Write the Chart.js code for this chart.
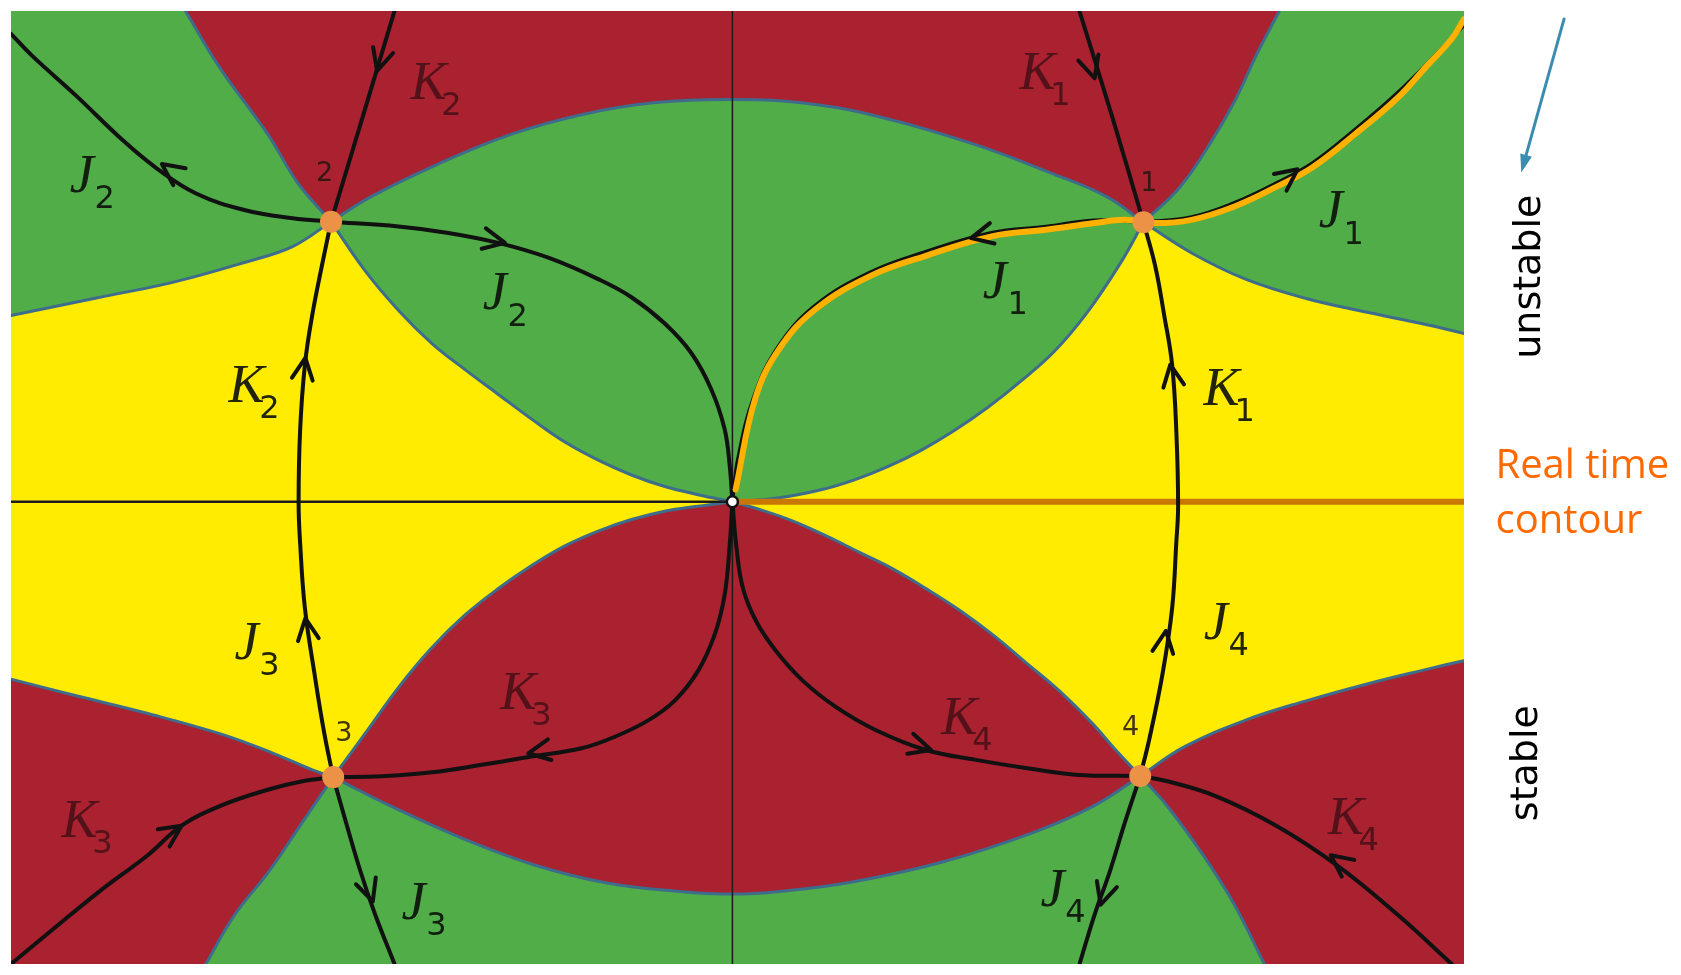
<!DOCTYPE html>
<html>
<head>
<meta charset="utf-8">
<title>Thimbles</title>
<script src="https://cdn.jsdelivr.net/npm/chart.js@4.4.1/dist/chart.umd.min.js"></script>
<style>
  html, body { margin: 0; padding: 0; background: #fff; }
  .wrap { position: relative; width: 1681px; height: 975px; }
</style>
</head>
<body>
<div class="wrap"><canvas id="myChart"></canvas></div>
<script>
// frame of the complex t plane
const xMin = -6.74, xMax = 6.835, yMin = -4.365, yMax = 4.635;
const TL = [xMin, yMax], TR = [xMax, yMax], BR = [xMax, yMin], BL = [xMin, yMin];

// origin and saddles
const O = [0, 0];
const S1 = [3.84, 2.64];
const S2 = [-3.75, 2.645];
const S3 = [-3.73, -2.60];
const S4 = [3.81, -2.59];
const saddles = [S1, S2, S3, S4];
const saddleNames = ['1', '2', '3', '4'];
const saddleNamePos = [[3.89, 3.005], [-3.81, 3.10], [-3.63, -2.19], [3.72, -2.14]];

// region boundaries (upper half)
const sepTop2 = [[-5.11, 4.635], [-4.79, 4.10], [-4.34, 3.47], [-4.06, 3.01], S2];
const sepLeft2 = [S2, [-4.11, 2.41], [-4.56, 2.26], [-5.24, 2.07], [-5.92, 1.93], [-6.74, 1.76]];
const lensLowL = [S2, [-3.431, 2.181], [-3.119, 1.807], [-2.809, 1.497], [-2.498, 1.248], [-2.187, 1.014], [-1.876, 0.781],
  [-1.565, 0.564], [-1.254, 0.393], [-0.943, 0.253], [-0.632, 0.144], [-0.321, 0.067], O];
const lensTop = [S2, [-3.38, 2.88], [-2.75, 3.19], [-2.07, 3.47], [-1.39, 3.66], [-0.72, 3.77], [0, 3.80],
  [0.72, 3.76], [1.40, 3.63], [2.25, 3.38], [2.99, 3.10], [3.50, 2.88], S1];
const sepTop1 = [S1, [4.18, 2.97], [4.46, 3.38], [4.69, 3.78], [4.91, 4.25], [5.11, 4.635]];
const lensLowR = [S1, [3.628, 2.259], [3.317, 1.792], [3.006, 1.419], [2.695, 1.139], [2.384, 0.89], [2.073, 0.673],
  [1.762, 0.486], [1.451, 0.331], [1.14, 0.207], [0.829, 0.113], [0.42, 0.035], O];
const sepRight1 = [S1, [4.29, 2.35], [4.80, 2.10], [5.36, 1.92], [5.93, 1.79], [6.50, 1.67], [6.835, 1.59]];

// region boundaries (lower half)
const sepLeft3 = [[-6.74, -1.675], [-6.14, -1.83], [-5.46, -2.00], [-4.79, -2.19], [-4.29, -2.375], [-3.93, -2.53], S3];
const lensHighL = [S3, [-3.431, -2.188], [-3.119, -1.752], [-2.809, -1.379], [-2.498, -1.069], [-2.187, -0.819],
  [-1.876, -0.602], [-1.565, -0.416], [-1.254, -0.276], [-0.943, -0.167], [-0.632, -0.089], [-0.321, -0.042], O];
const lensBottom = [S3, [-3.20, -2.87], [-2.52, -3.18], [-1.85, -3.43], [-1.17, -3.60], [-0.49, -3.68], [0, -3.705],
  [0.44, -3.68], [1.12, -3.59], [1.97, -3.40], [2.82, -3.12], [3.38, -2.87], S4];
const lensHighR = [O, [0.254, -0.073], [0.565, -0.182], [0.876, -0.322], [1.187, -0.478], [1.498, -0.633], [1.809, -0.82],
  [2.119, -1.022], [2.431, -1.255], [2.742, -1.519], [3.052, -1.784], [3.364, -2.095], [3.581, -2.344], S4];
const sepBottom3 = [S3, [-4.02, -3.03], [-4.33, -3.49], [-4.65, -3.90], [-4.92, -4.365]];
const sepRight4 = [S4, [4.23, -2.31], [4.80, -2.06], [5.36, -1.88], [5.93, -1.72], [6.495, -1.58], [6.835, -1.50]];
const sepBottom4 = [S4, [4.06, -2.87], [4.40, -3.34], [4.69, -3.805], [4.97, -4.365]];

// flow lines (thimbles J and duals K)
const K2top = [[-3.157, 4.635], [-3.45, 3.65], S2];
const J2left = [S2, [-4.107, 2.678], [-4.559, 2.756], [-5.011, 2.912], [-5.373, 3.145], [-5.69, 3.409], [-6.142, 3.845], [-6.549, 4.218], [-6.74, 4.42]];
const J2right = [S2, [-3.119, 2.60], [-2.653, 2.539], [-2.187, 2.445], [-1.72, 2.305], [-1.254, 2.103], [-0.943, 1.932],
  [-0.632, 1.683], [-0.383, 1.403], [-0.197, 1.061], [-0.073, 0.688], [-0.026, 0.347], O];
const leftArc = [S3, [-3.813, -2.188], [-3.904, -1.628], [-3.994, -1.006], [-4.039, -0.385], [-4.053, -0.011],
  [-4.039, 0.673], [-3.994, 1.295], [-3.926, 1.761], [-3.836, 2.227], S2];
const K1top = [[3.242, 4.635], [3.55, 3.63], S1];
const rightArc = [S4, [3.893, -2.25], [4.018, -1.628], [4.108, -1.006], [4.147, -0.385], [4.164, -0.042],
  [4.147, 0.673], [4.108, 1.295], [4.034, 1.761], [3.95, 2.227], S1];
const J1left = [S1, [3.38, 2.66], [2.93, 2.60], [2.42, 2.54], [1.80, 2.36], [1.29, 2.17], [0.78, 1.86], [0.43, 1.47], [0.20, 0.99], [0.05, 0.40], O];
const J1right = [S1, [4.29, 2.69], [4.68, 2.82], [5.08, 3.01], [5.42, 3.20], [5.81, 3.51], [6.20, 3.85], [6.60, 4.25], [6.835, 4.50]];
const K3right = [O, [-0.026, -0.416], [-0.073, -0.882], [-0.166, -1.255], [-0.321, -1.597], [-0.539, -1.877], [-0.787, -2.064],
  [-1.099, -2.219], [-1.41, -2.328], [-1.876, -2.405], [-2.342, -2.484], [-2.809, -2.555], [-3.275, -2.592], S3];
const K3left = [[-6.74, -4.365], [-6.368, -4.054], [-5.916, -3.681], [-5.463, -3.338], [-5.147, -3.059], [-4.785, -2.872],
  [-4.333, -2.717], [-4.017, -2.639], S3];
const J3lower = [S3, [-3.61, -3.028], [-3.474, -3.494], [-3.338, -3.898], [-3.157, -4.365]];
const K4left = [O, [0.036, -0.416], [0.099, -0.819], [0.223, -1.131], [0.409, -1.411], [0.659, -1.691], [0.969, -1.939],
  [1.342, -2.157], [1.809, -2.344], [2.275, -2.437], [2.742, -2.514], [3.208, -2.577], S4];
const K4right = [[6.721, -4.365], [6.213, -3.898], [5.646, -3.432], [5.081, -3.059], [4.515, -2.779], [4.063, -2.639], S4];
const J4lower = [S4, [3.667, -3.028], [3.525, -3.494], [3.384, -3.898], [3.243, -4.365]];

// real time contour deformed onto the thimbles
const contour = [[0.03, 0.115], [0.216, 0.984], [0.442, 1.45], [0.782, 1.823], [1.291, 2.134], [1.80, 2.321], [2.423, 2.507],
  [2.931, 2.569], [3.384, 2.632], [3.667, 2.663], [3.95, 2.632], [4.289, 2.663], [4.685, 2.787], [5.081, 2.974],
  [5.421, 3.16], [5.816, 3.471], [6.213, 3.813], [6.495, 4.124], [6.721, 4.373], [6.835, 4.559]];

// arrow heads: tip x, tip y, direction x, direction y
const arrowHeads = [
  [-3.32, 4.07, -0.28, -0.96], [-5.33, 3.19, -0.81, 0.59], [-2.125, 2.445, 0.97, -0.2],
  [-3.99, 1.36, 0.14, 0.99], [-3.99, -1.10, -0.14, 0.99], [-1.907, -2.375, -0.986, -0.165],
  [-5.147, -3.059, 0.824, 0.566], [-3.36, -3.774, 0.32, -0.95], [3.384, 4.0, 0.287, -0.958],
  [5.28, 3.14, 0.8, 0.6], [2.23, 2.49, -0.97, -0.22], [4.091, 1.295, -0.157, 0.988],
  [4.05, -1.22, 0.144, 0.99], [1.855, -2.344, 0.958, -0.287], [5.59, -3.338, -0.80, 0.60],
  [3.44, -3.805, -0.29, -0.96]
];

// labels: letter, index, x, y, on red
const thimbleLabels = [
  ['J', '2', -6.08, 3.06, false], ['K', '2', -2.84, 3.94, true], ['J', '2', -2.22, 1.95, false],
  ['K', '2', -4.54, 1.08, false], ['J', '3', -4.54, -1.35, false], ['K', '3', -2.0, -1.82, true],
  ['K', '3', -6.10, -3.03, true], ['J', '3', -2.98, -3.805, false], ['K', '1', 2.85, 4.03, true],
  ['J', '1', 5.59, 2.725, false], ['J', '1', 2.45, 2.06, false], ['K', '1', 4.57, 1.05, false],
  ['J', '4', 4.515, -1.16, false], ['K', '4', 2.12, -2.06, true], ['K', '4', 5.73, -3.00, true],
  ['J', '4', 2.99, -3.68, false]
];

// side notes
const hintArrow = [[7.77, 4.56], [7.37, 3.11]];
const sideWords = [['unstable', 7.546, 2.126], ['stable', 7.514, -2.468]];
const contourWords = [['Real time', 7.129, 0.222], ['contour', 7.129, -0.291]];

const RED = '#aa2130', GREEN = '#50ad47', YELLOW = '#ffec00', EDGE = '#3d6c8c', INK = '#111';

function toXY(arr) { return arr.map(p => ({ x: p[0], y: p[1] })); }
function seg(c) { return [c[0], ...c, c[c.length - 1]]; }
function rev(c) { return c.slice().reverse(); }

function region(color, parts) {
  return { data: toXY([].concat(...parts)), fill: 'shape', backgroundColor: color, borderWidth: 0,
    pointRadius: 0, tension: 0.4, order: 95 };
}
function curve(arr, color, width, order) {
  return { data: toXY(arr), fill: false, borderColor: color, borderWidth: width, pointRadius: 0,
    tension: 0.4, order: order, borderCapStyle: 'round', borderJoinStyle: 'round' };
}

const datasets = [
  { data: toXY([TL, TL, TR, TR, BR, BR, BL, BL]), fill: 'shape', backgroundColor: YELLOW, borderWidth: 0, pointRadius: 0, tension: 0, order: 100 },
  region(GREEN, [[TL, TL], seg(sepTop2), seg(sepLeft2)]),
  region(RED, [seg(sepTop2), seg(lensTop), seg(sepTop1)]),
  region(GREEN, [seg(lensTop), seg(lensLowR), seg(rev(lensLowL))]),
  region(GREEN, [[TR, TR], seg(rev(sepRight1)), seg(sepTop1)]),
  region(RED, [seg(lensBottom), seg(rev(lensHighR)), seg(rev(lensHighL))]),
  region(RED, [seg(sepLeft3), seg(sepBottom3), [BL, BL]]),
  region(GREEN, [seg(rev(sepBottom3)), seg(lensBottom), seg(sepBottom4)]),
  region(RED, [[BR, BR], seg(rev(sepBottom4)), seg(sepRight4)])
];

[sepTop2, sepLeft2, lensLowL, lensTop, sepTop1, lensLowR, sepRight1,
  sepLeft3, lensHighL, lensBottom, lensHighR, sepBottom3, sepRight4, sepBottom4]
  .forEach(c => datasets.push(curve(c, EDGE, 3, 90)));

// axes: imaginary axis, negative real axis, real time contour
datasets.push(curve([[0, yMax], [0, yMin]], '#1c1c1c', 1.5, 85));
datasets.push(curve([[xMin, 0], O], '#1c1c1c', 2.5, 85));
datasets.push(curve([O, [xMax, 0]], '#c97700', 6, 85));

[K2top, J2left, J2right, leftArc, K1top, rightArc, K3right, K3left, J3lower, K4left, K4right, J4lower]
  .forEach(c => datasets.push(curve(c, INK, 4, 80)));
[J1left, J1right].forEach(c => datasets.push(curve(c, INK, 3.5, 70)));
datasets.push(curve(contour, '#ffb100', 6, 60));

datasets.push({ data: toXY(saddles), showLine: false, pointRadius: 11, pointBackgroundColor: '#eb9247',
  pointBorderWidth: 0, order: 50 });
datasets.push({ data: toXY([O]), showLine: false, pointRadius: 5.5, pointBackgroundColor: '#ffffff',
  pointBorderColor: '#111', pointBorderWidth: 2.5, order: 40 });

const annotations = {
  id: 'annotations',
  afterDatasetsDraw(chart) {
    const { ctx, scales: { x, y } } = chart;
    const px = v => x.getPixelForValue(v);
    const py = v => y.getPixelForValue(v);
    ctx.save();

    // arrow heads on the flow lines
    ctx.strokeStyle = INK;
    ctx.lineWidth = 4;
    ctx.lineCap = 'round';
    ctx.lineJoin = 'round';
    arrowHeads.forEach(([ax, ay, dx, dy]) => {
      const tx = px(ax), ty = py(ay);
      const ang = Math.atan2(-dy, dx) + Math.PI;
      ctx.beginPath();
      ctx.moveTo(tx + 24 * Math.cos(ang - 0.45), ty + 24 * Math.sin(ang - 0.45));
      ctx.lineTo(tx, ty);
      ctx.lineTo(tx + 24 * Math.cos(ang + 0.45), ty + 24 * Math.sin(ang + 0.45));
      ctx.stroke();
    });

    // thimble labels
    ctx.textAlign = 'center';
    ctx.textBaseline = 'middle';
    thimbleLabels.forEach(([letter, idx, lx, ly, onRed]) => {
      ctx.fillStyle = onRed ? 'rgba(50, 12, 18, 0.72)' : 'rgba(10, 14, 10, 0.9)';
      ctx.font = 'italic 54px "Liberation Serif"';
      ctx.fillText(letter, px(lx), py(ly));
      ctx.font = '32px "DejaVu Sans"';
      ctx.fillText(idx, px(lx) + 23, py(ly) + 22);
    });

    // saddle numbers
    ctx.font = '27px "DejaVu Sans"';
    ctx.fillStyle = 'rgba(35, 20, 15, 0.85)';
    saddleNames.forEach((n, i) => ctx.fillText(n, px(saddleNamePos[i][0]), py(saddleNamePos[i][1])));

    // blue hint arrow
    const [a0, a1] = hintArrow;
    const x0 = px(a0[0]), y0 = py(a0[1]), x1 = px(a1[0]), y1 = py(a1[1]);
    const ha = Math.atan2(y1 - y0, x1 - x0);
    ctx.strokeStyle = '#3a8db0';
    ctx.fillStyle = '#3a8db0';
    ctx.lineWidth = 3;
    ctx.beginPath();
    ctx.moveTo(x0, y0);
    ctx.lineTo(x1 - 10 * Math.cos(ha), y1 - 10 * Math.sin(ha));
    ctx.stroke();
    ctx.beginPath();
    ctx.moveTo(x1, y1);
    ctx.lineTo(x1 - 18 * Math.cos(ha) + 6 * Math.sin(ha), y1 - 18 * Math.sin(ha) - 6 * Math.cos(ha));
    ctx.lineTo(x1 - 18 * Math.cos(ha) - 6 * Math.sin(ha), y1 - 18 * Math.sin(ha) + 6 * Math.cos(ha));
    ctx.closePath();
    ctx.fill();

    // rotated side words
    ctx.fillStyle = '#000';
    ctx.font = '38px "DejaVu Sans"';
    ctx.textAlign = 'center';
    ctx.textBaseline = 'alphabetic';
    sideWords.forEach(([w, wx, wy]) => {
      ctx.save();
      ctx.translate(px(wx), py(wy));
      ctx.rotate(-Math.PI / 2);
      ctx.fillText(w, 0, 0);
      ctx.restore();
    });

    ctx.fillStyle = '#ff6a00';
    ctx.font = '40px "Open Sans"';
    ctx.textAlign = 'left';
    contourWords.forEach(([w, wx, wy]) => ctx.fillText(w, px(wx), py(wy)));
    ctx.restore();
  }
};

const myChart = new Chart('myChart', {
  type: 'line',
  data: { datasets: datasets },
  options: {
    responsive: true,
    maintainAspectRatio: false,
    animation: false,
    events: [],
    layout: { padding: { left: 9, top: 8, right: 217, bottom: 2 } },
    scales: {
      x: { type: 'linear', min: xMin, max: xMax, bounds: 'data', display: false },
      y: { type: 'linear', min: yMin, max: yMax, bounds: 'data', display: false }
    },
    plugins: {
      legend: { display: false },
      tooltip: { enabled: false }
    }
  },
  plugins: [annotations]
});
</script>
</body>
</html>
